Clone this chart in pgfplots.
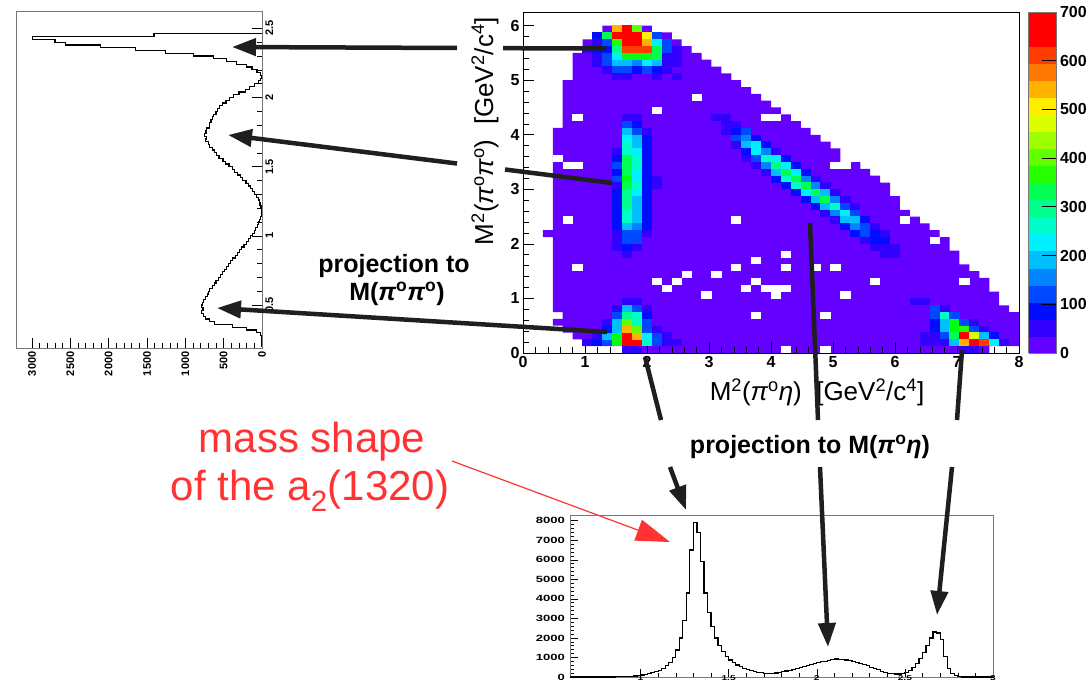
\documentclass[border=0pt]{standalone}
\usepackage{fontspec}
\setmainfont{Liberation Sans}
\usepackage{pgfplots}
\pgfplotsset{compat=1.18}
\usetikzlibrary{arrows.meta}

\definecolor{lvl0}{RGB}{100,0,255}
\definecolor{redtxt}{RGB}{255,51,51}
\definecolor{framegray}{RGB}{120,120,120}

% one bin of the 50x50 Dalitz histogram (0.16 x 0.125 GeV^2)
\pgfdeclareplotmark{cell}{%
  \pgfpathrectangle{\pgfpoint{-5.1pt}{-3.55pt}}{\pgfpoint{10.2pt}{7.1pt}}%
  \pgfusepathqfill}

\newcommand{\tlf}{\bfseries\fontsize{16}{16}\selectfont}
\newcommand{\slf}{\bfseries\fontsize{11}{11}\selectfont}
\newcommand{\pz}{{\itshape π}\textsuperscript{o}}

\pgfplotsset{
  colormap={rootpal}{
    rgb255=(100,0,255) rgb255=(50,0,255) rgb255=(0,13,255) rgb255=(0,72,255)
    rgb255=(0,132,255) rgb255=(0,191,255) rgb255=(0,240,255) rgb255=(0,255,200)
    rgb255=(0,255,140) rgb255=(0,255,81) rgb255=(0,255,21) rgb255=(38,255,0)
    rgb255=(98,255,0) rgb255=(157,255,0) rgb255=(217,255,0) rgb255=(255,238,0)
    rgb255=(255,179,0) rgb255=(255,119,0) rgb255=(255,60,0) rgb255=(255,0,0)
    rgb255=(255,0,0)},
}

\begin{document}
\begin{tikzpicture}
\useasboundingbox (0pt,0pt) rectangle (1086pt,-684pt);

%---------------- projection on M(pi0 pi0), drawn sideways
\begin{axis}[
  at={(16.7pt,-348pt)}, anchor=south west, scale only axis,
  width=245.3pt, height=336.3pt,
  x dir=reverse, xmin=0, xmax=3200, ymin=0.19, ymax=2.62,
  xtick={0,500,1000,1500,2000,2500,3000}, minor x tick num=4,
  ytick={0.5,1,1.5,2,2.5}, minor y tick num=4,
  xtick pos=left, ytick pos=right, yticklabel pos=right,
  tick align=inside, major tick length=10pt, minor tick length=5pt,
  axis line style={framegray, line width=0.8pt}, tick style={black, line width=0.6pt},
  xticklabel style={rotate=90, anchor=east, font=\slf},
  yticklabel style={rotate=90, anchor=north, font=\slf},
  /pgf/number format/assume math mode=true, /pgf/number format/1000 sep={},
]
\addplot[const plot mark right, black, line width=1.2pt] table {
c m
0 0.20
0 0.22
0 0.24
3 0.26
20 0.28
70 0.30
200 0.32
380 0.34
620 0.36
680 0.38
740 0.40
760 0.42
790 0.44
770 0.46
790 0.48
780 0.50
760 0.52
740 0.54
710 0.56
700 0.58
680 0.60
650 0.62
620 0.64
600 0.66
570 0.68
545 0.70
520 0.72
490 0.74
465 0.76
435 0.78
410 0.80
380 0.82
350 0.84
320 0.86
295 0.88
265 0.90
235 0.92
205 0.94
180 0.96
150 0.98
125 1.00
100 1.02
80 1.04
60 1.06
45 1.08
30 1.10
15 1.12
6 1.14
4 1.16
8 1.18
14 1.20
25 1.22
35 1.24
50 1.26
70 1.28
95 1.30
120 1.32
150 1.34
180 1.36
210 1.38
250 1.40
280 1.42
320 1.44
360 1.46
390 1.48
430 1.50
480 1.52
510 1.54
560 1.56
590 1.58
620 1.60
650 1.62
690 1.64
700 1.66
740 1.68
720 1.70
745 1.72
730 1.74
720 1.76
690 1.78
680 1.80
665 1.82
650 1.84
630 1.86
600 1.88
580 1.90
550 1.92
520 1.94
470 1.96
420 1.98
370 2.00
300 2.02
220 2.04
160 2.06
100 2.08
50 2.10
20 2.12
7 2.14
20 2.16
65 2.18
130 2.20
200 2.22
330 2.24
460 2.26
630 2.28
890 2.30
1260 2.32
1650 2.34
2110 2.36
2560 2.38
2700 2.40
2990 2.42
1410 2.44
0 2.46
};
\end{axis}

%---------------- Dalitz plot
\begin{axis}[
  name=dal,
  at={(523pt,-353pt)}, anchor=south west, scale only axis,
  width=496pt, height=341pt,
  xmin=0, xmax=8, ymin=0, ymax=6.25,
  xtick={0,1,2,3,4,5,6,7,8}, ytick={0,1,2,3,4,5,6},
  minor x tick num=4, minor y tick num=4,
  xtick pos=left, ytick pos=left, tick align=inside,
  major tick length=11pt, minor tick length=6pt,
  axis on top, axis line style={line width=0.8pt}, tick style={black, line width=0.6pt},
  ticklabel style={font=\tlf},
  /pgf/number format/assume math mode=true,
  colormap name=rootpal, colormap access=piecewise constant,
  point meta min=0, point meta max=700,
  colorbar sampled,
  colorbar style={
    at={(parent axis.north east)}, anchor=north west, xshift=1pt,
    scale only axis, width=28pt, height=341pt,
    samples=21, ymin=0, ymax=700,
    ytick={0,100,200,300,400,500,600,700},
    ytick pos=right, yticklabel pos=right, tick align=inside,
    major tick length=15pt, tick style={black, line width=0.8pt},
    axis line style={framegray, line width=0.6pt},
    yticklabel style={font=\tlf},
    /pgf/number format/assume math mode=true,
  },
]
% populated phase-space region (lowest contour level)
\addplot[fill=lvl0, draw=none] table[x expr=0.16*\thisrow{a}, y expr=0.125*\thisrow{b}] {
a b
8 48
13 48
13 47
15 47
15 46
16 46
16 45
17 45
17 44
18 44
18 43
19 43
19 42
20 42
20 41
21 41
21 40
22 40
22 39
23 39
23 38
24 38
24 37
25 37
25 36
26 36
26 35
27 35
27 34
28 34
28 33
29 33
29 32
30 32
30 31
31 31
31 30
32 30
32 28
34 28
34 27
35 27
35 26
36 26
36 25
37 25
37 23
38 23
38 21
39 21
39 20
40 20
40 19
41 19
41 18
42 18
42 17
43 17
43 15
44 15
44 13
45 13
45 12
46 12
46 11
47 11
47 9
48 9
48 7
49 7
49 6
50 6
50 1
47 1
47 0
10 0
10 1
6 1
6 2
5 2
5 3
4 3
4 4
3 4
3 5
4 5
4 6
3 6
3 17
2 17
2 18
3 18
3 33
4 33
4 40
5 40
5 44
6 44
6 46
7 46
7 47
8 47
8 48
};
% empty bins inside the region
\addplot[only marks, mark=cell, white] table[x expr=0.16*\thisrow{i}+0.08, y expr=0.125*\thisrow{j}+0.0625] {
i j
17 37
13 35
5 34
24 34
25 34
3 28
4 27
5 27
31 27
32 27
4 19
21 19
38 19
5 12
23 13
21 12
16 11
19 11
13 10
15 10
23 10
14 9
22 9
24 9
25 9
26 9
25 8
18 8
23 5
26 14
26 12
29 12
31 12
32 8
35 10
30 5
26 0
30 0
41 16
44 10
};
% populated bins above the lowest level
\addplot[scatter, only marks, mark=cell, scatter src=explicit]
  table[x expr=0.16*\thisrow{i}+0.08, y expr=0.125*\thisrow{j}+0.0625, meta=v] {
i j v
9 47 540
10 47 690
11 47 400
7 46 90
8 46 320
9 46 690
10 46 690
11 46 690
12 46 500
13 46 120
7 45 50
8 45 100
9 45 380
10 45 690
11 45 690
12 45 550
13 45 200
14 45 100
6 44 50
7 44 80
8 44 90
9 44 280
10 44 620
11 44 620
12 44 620
13 44 330
14 44 110
15 44 50
7 43 50
8 43 100
9 43 220
10 43 350
11 43 350
12 43 350
13 43 320
14 43 60
15 43 50
7 42 50
8 42 110
9 42 180
10 42 190
11 42 150
12 42 200
13 42 190
14 42 60
15 42 50
8 41 60
9 41 110
10 41 100
11 41 90
12 41 100
13 41 90
14 41 60
9 40 50
10 40 50
13 40 50
15 40 40
10 34 60
11 34 60
10 33 100
11 33 90
10 32 180
11 32 110
12 32 50
10 31 230
11 31 170
12 31 80
10 30 250
11 30 180
12 30 70
9 29 50
10 29 240
11 29 220
12 29 80
9 28 90
10 28 320
11 28 250
12 28 80
9 27 100
10 27 320
11 27 240
12 27 70
9 26 90
10 26 330
11 26 230
12 26 80
9 25 100
10 25 340
11 25 230
12 25 80
13 25 45
9 24 60
10 24 330
11 24 250
12 24 80
13 24 50
9 23 90
10 23 290
11 23 200
12 23 80
9 22 90
10 22 280
11 22 190
12 22 80
9 21 90
10 21 270
11 21 180
12 21 70
9 20 90
10 20 250
11 20 170
12 20 70
9 19 90
10 19 240
11 19 180
12 19 70
9 18 90
10 18 190
11 18 160
12 18 70
9 17 60
10 17 130
11 17 110
12 17 50
9 16 60
10 16 120
11 16 100
9 15 50
10 15 70
11 15 60
10 14 50
10 0 60
11 0 60
6 1 50
7 1 90
8 1 110
9 1 350
10 1 690
11 1 690
12 1 250
13 1 110
14 1 60
15 1 50
7 2 50
8 2 190
9 2 360
10 2 690
11 2 560
12 2 210
13 2 100
14 2 50
8 3 80
9 3 190
10 3 540
11 3 420
12 3 120
13 3 50
8 4 50
9 4 180
10 4 400
11 4 250
12 4 100
9 5 100
10 5 280
11 5 240
12 5 90
9 6 50
10 6 170
11 6 110
12 6 50
10 7 60
11 7 60
19 34 50
20 34 50
20 33 60
21 33 50
20 32 50
21 32 80
22 32 100
21 31 100
22 31 160
23 31 90
21 30 60
22 30 180
23 30 200
24 30 90
22 29 90
23 29 220
24 29 160
25 29 60
22 28 50
23 28 120
24 28 260
25 28 200
26 28 80
23 27 60
24 27 150
25 27 280
26 27 220
27 27 80
24 26 60
25 26 180
26 26 320
27 26 200
28 26 70
25 25 80
26 25 250
27 25 300
28 25 150
29 25 60
26 24 90
27 24 240
28 24 330
29 24 160
30 24 60
27 23 70
28 23 200
29 23 320
30 23 170
31 23 50
28 22 80
29 22 190
30 22 300
31 22 150
32 22 50
29 21 70
30 21 170
31 21 260
32 21 120
33 21 50
30 20 60
31 20 150
32 20 230
33 20 100
31 19 60
32 19 170
33 19 190
34 19 80
32 18 80
33 18 150
34 18 120
35 18 60
33 17 70
34 17 110
35 17 90
36 17 50
34 16 60
35 16 80
36 16 70
35 15 50
36 15 60
37 15 50
36 14 50
37 14 50
39 7 50
40 7 50
41 6 110
42 6 60
41 5 100
42 5 240
43 5 100
41 4 90
42 4 190
43 4 350
44 4 110
45 4 50
41 3 80
42 3 190
43 3 360
44 3 380
45 3 110
46 3 50
40 2 50
41 2 60
42 2 110
43 2 330
44 2 690
45 2 490
46 2 190
47 2 90
40 1 50
41 1 50
42 1 50
43 1 190
44 1 540
45 1 690
46 1 620
47 1 200
48 1 60
44 0 50
45 0 60
};
\end{axis}

%---------------- projection on M(pi0 eta)
\begin{axis}[
  at={(570pt,-677pt)}, anchor=south west, scale only axis,
  width=423pt, height=162pt,
  xmin=0.6, xmax=3, ymin=0, ymax=8290,
  xtick={1,1.5,2,2.5,3}, minor x tick num=4,
  ytick={0,1000,2000,3000,4000,5000,6000,7000,8000}, minor y tick num=4,
  xtick pos=left, ytick pos=left, tick align=inside,
  major tick length=8pt, minor tick length=4pt,
  axis line style={framegray, line width=0.8pt}, tick style={black, line width=0.5pt},
  yticklabel style={font=\bfseries\fontsize{9}{9}\selectfont, xscale=1.45},
  xticklabel style={font=\bfseries\fontsize{7}{7}\selectfont, xscale=1.45,
                    inner sep=0pt, yshift=1.5pt},
  /pgf/number format/assume math mode=true, /pgf/number format/1000 sep={},
]
\addplot[const plot mark left, black, line width=1.2pt] table {
x n
0.60 0
0.62 0
0.64 0
0.66 0
0.68 0
0.70 0
0.72 0
0.74 0
0.76 0
0.78 0
0.80 0
0.82 0
0.84 0
0.86 8
0.88 12
0.90 18
0.92 28
0.94 40
0.96 55
0.98 75
1.00 100
1.02 130
1.04 170
1.06 220
1.08 280
1.10 350
1.12 440
1.14 580
1.16 760
1.18 980
1.20 1380
1.22 2000
1.24 2900
1.26 4300
1.28 6500
1.30 7900
1.32 7400
1.34 5900
1.36 4300
1.38 3300
1.40 2600
1.42 2000
1.44 1600
1.46 1300
1.48 1050
1.50 870
1.52 730
1.54 610
1.56 520
1.58 450
1.60 390
1.62 330
1.64 290
1.66 250
1.68 220
1.70 190
1.72 175
1.74 180
1.76 200
1.78 230
1.80 270
1.82 310
1.84 350
1.86 400
1.88 440
1.90 490
1.92 540
1.94 590
1.96 640
1.98 690
2.00 740
2.02 790
2.04 800
2.06 860
2.08 910
2.10 920
2.12 890
2.14 900
2.16 870
2.18 840
2.20 800
2.22 750
2.24 690
2.26 630
2.28 570
2.30 500
2.32 430
2.34 370
2.36 300
2.38 240
2.40 190
2.42 160
2.44 150
2.46 150
2.48 170
2.50 220
2.52 320
2.54 470
2.56 680
2.58 950
2.60 1250
2.62 1600
2.64 2000
2.66 2300
2.68 2250
2.70 1900
2.72 1050
2.74 450
2.76 170
2.78 60
2.80 15
2.82 5
2.84 0
2.86 0
2.88 0
2.90 0
2.92 0
2.94 0
2.96 0
2.98 0
3.00 0
};
\end{axis}

%---------------- titles, notes and arrows
\begin{scope}[x=1pt, y=-1pt]
  \node[rotate=90, font=\fontsize{26}{28}\selectfont] at (485,131)
    {M\textsuperscript{2}(\pz\pz)\ \ [GeV\textsuperscript{2}/c\textsuperscript{4}]};
  \node[font=\fontsize{26}{28}\selectfont] at (817,392)
    {M\textsuperscript{2}(\pz{\itshape η})\ \ [GeV\textsuperscript{2}/c\textsuperscript{4}]};

  \node[font=\bfseries\fontsize{25}{27}\selectfont] at (394,266) {projection to};
  \node[font=\bfseries\fontsize{25}{27}\selectfont] at (397,294) {M(\pz\pz)};
  \node[font=\bfseries\fontsize{25}{27}\selectfont] at (810,447) {projection to M(\pz{\itshape η})};

  \node[anchor=base, text=redtxt, font=\fontsize{42}{46}\selectfont] at (312,452) {mass shape};
  \node[anchor=base, text=redtxt, font=\fontsize{42}{46}\selectfont] at (310,500) {of the a\textsubscript{2}(1320)};

  \tikzset{proj/.style={black!88, line width=4.5pt},
           head/.style={-{Triangle[length=24pt,width=17pt]}}}
  % towards the M(pi0 pi0) projection
  \draw[proj] (606,48.5) -- (503,48.2);
  \draw[proj, head] (457,48) -- (232,47);
  \draw[proj] (612,183) -- (505,169.5);
  \draw[proj, head] (457,163.5) -- (228,135);
  \draw[proj, head] (607,332) -- (217,308);
  % towards the M(pi0 eta) projection
  \draw[proj] (645,357) -- (661,420);
  \draw[proj, head] (670,467) -- (686,510);
  \draw[proj] (810,223) -- (818,420);
  \draw[proj, head] (820,467) -- (828,647);
  \draw[proj] (962,350) -- (957,420);
  \draw[proj, head] (952,467) -- (937,615);
  % a2 pointer
  \draw[redtxt, line width=1.2pt, -{Triangle[length=34pt,width=22pt]}] (452,461) -- (670,542);
\end{scope}
\end{tikzpicture}
\end{document}
